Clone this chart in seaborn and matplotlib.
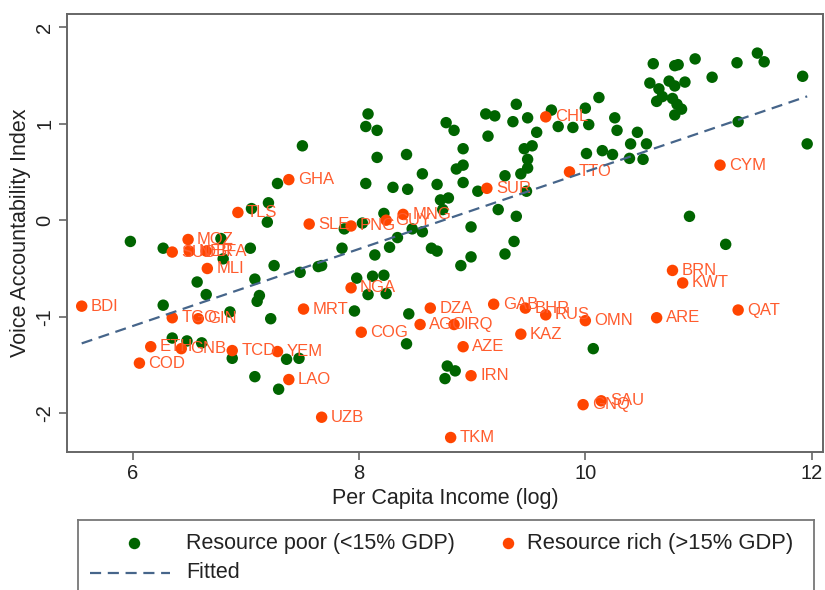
import matplotlib
matplotlib.use("Agg")
import matplotlib.pyplot as plt
import numpy as np
import pandas as pd
import seaborn as sns

# ---- data: log per-capita income vs. voice & accountability index ----
poor_income = [
    5.98, 6.27, 6.78, 6.80, 7.04, 7.05, 7.20, 7.19, 6.57, 6.65, 7.08, 7.25, 7.48,
    6.27, 6.86, 7.12, 7.10, 7.22, 6.35, 6.48, 6.61, 6.88, 7.08, 7.36, 7.47, 7.29,
    7.64, 7.28, 7.50,
    8.06, 8.30, 8.43, 8.56, 8.69, 8.22, 8.03, 7.87, 8.34, 8.27, 8.47, 8.56, 7.85,
    8.14, 8.64, 8.69, 7.67, 7.98, 8.12, 8.22, 8.08, 8.24,
    8.08, 8.06, 8.16, 8.16, 8.42,
    8.77, 8.84, 8.92, 8.92, 8.86, 8.92, 8.72, 8.79, 8.74, 9.05, 9.12, 9.20, 9.14,
    8.99, 8.99, 8.90, 9.23,
    9.39, 10.00, 10.12, 9.36, 9.49, 9.57, 9.70, 9.76, 9.89, 10.03, 10.26, 10.28,
    10.46, 10.40, 10.54, 10.01, 10.15, 10.24, 10.39, 10.51, 9.53, 9.46, 9.49, 9.49,
    9.43, 9.29, 9.48, 9.39, 9.37, 11.35, 11.96, 10.92, 11.24, 9.29,
    10.60, 10.79, 10.82, 10.97, 11.12, 11.34, 11.52, 11.58, 11.92, 10.57, 10.65,
    10.74, 10.79, 10.88, 10.68, 10.63, 10.77, 10.81, 10.85, 10.79,
    10.07,
    7.96, 8.44, 8.42, 8.78, 8.85, 8.76,
]
poor_voice = [
    -0.22, -0.29, -0.19, -0.40, -0.29, 0.12, 0.18, -0.02, -0.64, -0.77, -0.61, -0.47, -0.54,
    -0.88, -0.95, -0.78, -0.84, -1.02, -1.22, -1.25, -1.27, -1.43, -1.62, -1.44, -1.43, -1.75,
    -0.48, 0.38, 0.77,
    0.38, 0.34, 0.32, 0.48, 0.37, 0.07, -0.03, -0.09, -0.18, -0.28, -0.09, -0.12, -0.29,
    -0.36, -0.29, -0.32, -0.47, -0.60, -0.58, -0.57, -0.77, -0.76,
    1.10, 0.97, 0.93, 0.65, 0.68,
    1.01, 0.93, 0.74, 0.57, 0.53, 0.39, 0.21, 0.23, 0.11, 0.30, 1.10, 1.08, 0.87,
    -0.07, -0.38, -0.47, 0.11,
    1.20, 1.16, 1.27, 1.02, 1.06, 0.91, 1.14, 0.97, 0.96, 0.99, 1.06, 0.93,
    0.91, 0.79, 0.79, 0.69, 0.72, 0.68, 0.64, 0.63, 0.77, 0.74, 0.63, 0.54,
    0.48, 0.46, 0.30, 0.04, -0.22, 1.02, 0.79, 0.04, -0.25, -0.35,
    1.62, 1.60, 1.61, 1.67, 1.48, 1.63, 1.73, 1.64, 1.49, 1.42, 1.36,
    1.44, 1.39, 1.43, 1.28, 1.23, 1.26, 1.20, 1.15, 1.09,
    -1.33,
    -0.94, -0.97, -1.28, -1.51, -1.56, -1.64,
]

rich_code = [
    "BDI", "COD", "ETH", "GNB", "TCD", "YEM", "LAO", "TGO", "GIN", "MLI", "MOZ",
    "SUD", "NER", "BFA", "TLS", "GHA", "SLE", "PNG", "GUY", "MNG", "SUR", "CHL",
    "TTO", "CYM", "NGA", "MRT", "COG", "DZA", "AGO", "IRQ", "AZE", "IRN", "UZB",
    "TKM", "GAB", "BHR", "RUS", "OMN", "KAZ", "ARE", "BRN", "KWT", "QAT", "SAU", "GNQ",
]
rich_income = [
    5.55, 6.06, 6.16, 6.43, 6.88, 7.28, 7.38, 6.35, 6.58, 6.66, 6.49,
    6.35, 6.50, 6.65, 6.93, 7.38, 7.56, 7.93, 8.24, 8.39, 9.13, 9.65,
    9.86, 11.19, 7.93, 7.51, 8.02, 8.63, 8.54, 8.84, 8.92, 8.99, 7.67,
    8.81, 9.19, 9.47, 9.65, 10.00, 9.43, 10.63, 10.77, 10.86, 11.35, 10.14, 9.98,
]
rich_voice = [
    -0.89, -1.48, -1.31, -1.33, -1.35, -1.36, -1.65, -1.01, -1.02, -0.50, -0.20,
    -0.33, -0.32, -0.32, 0.08, 0.42, -0.04, -0.06, 0.00, 0.06, 0.33, 1.07,
    0.50, 0.57, -0.70, -0.92, -1.16, -0.91, -1.08, -1.08, -1.31, -1.61, -2.04,
    -2.25, -0.87, -0.91, -0.98, -1.04, -1.18, -1.01, -0.52, -0.65, -0.93, -1.87, -1.91,
]

# linear fit across all countries
fit_intercept = -3.49
fit_slope = 0.399

x_ticks = [6, 8, 10, 12]
y_ticks = [-2, -1, 0, 1, 2]

GREEN = "#006400"
ORANGE = "#FF4500"
LABEL_ORANGE = "#FF5C2E"
FIT_BLUE = "#46658A"
TEXT = "#222222"
FRAME = "#666666"

sns.set_theme(style="white")
plt.rcParams["font.family"] = ["Liberation Sans", "DejaVu Sans"]

poor_label = "Resource poor (<15% GDP)"
rich_label = "Resource rich (>15% GDP)"
df = pd.concat([
    pd.DataFrame({"income": poor_income, "voice": poor_voice, "group": poor_label, "code": ""}),
    pd.DataFrame({"income": rich_income, "voice": rich_voice, "group": rich_label, "code": rich_code}),
], ignore_index=True)

fig = plt.figure(figsize=(8.25, 5.9), dpi=100)
ax = fig.add_axes([0.0812, 0.2339, 0.9164, 0.7424])

sns.scatterplot(data=df, x="income", y="voice", hue="group",
                palette={poor_label: GREEN, rich_label: ORANGE},
                s=68, linewidth=0, legend=False, ax=ax, zorder=3)

rich = df[df["group"] == rich_label]
for _, r in rich.iterrows():
    ax.annotate(r["code"], (r["income"], r["voice"]), xytext=(6.5, 0),
                textcoords="offset points", ha="left", va="center",
                fontsize=12, color=LABEL_ORANGE, zorder=3.5)

fx = np.array([df["income"].min(), df["income"].max()])
fy = fit_intercept + fit_slope * fx
sns.lineplot(x=fx, y=fy, ax=ax, color=FIT_BLUE, lw=1.6, dashes=False, zorder=4)
ax.lines[-1].set_dashes((5, 3))

ax.set_xlim(5.42, 12.1)
ax.set_ylim(-2.40, 2.135)
ax.set_xticks(x_ticks)
ax.set_yticks(y_ticks)
ax.set_xticklabels([str(t) for t in x_ticks])
ax.set_yticklabels([str(t) for t in y_ticks], rotation=90, va="center")
ax.tick_params(axis="both", direction="out", length=6, width=1.2, color=FRAME,
               labelsize=14.5, labelcolor=TEXT, left=True, bottom=True, pad=3)
for sp in ax.spines.values():
    sp.set_color(FRAME)
    sp.set_linewidth(1.4)

ax.set_xlabel("Per Capita Income (log)", fontsize=15.5, color=TEXT, labelpad=3)
ax.set_ylabel("Voice Accountability Index", fontsize=15.5, color=TEXT, labelpad=3)

# legend panel below the plot, laid out in pixel units
lax = fig.add_axes([78 / 825, 1 - 600 / 590, (814 - 78) / 825, 80 / 590])
lax.set_xlim(78, 814)
lax.set_ylim(600, 520)
lax.set_xticks([])
lax.set_yticks([])
for sp in lax.spines.values():
    sp.set_color("#777777")
    sp.set_linewidth(1.3)
lax.scatter([134], [543], s=68, color=GREEN, linewidth=0)
lax.text(186, 543, poor_label, va="center", ha="left", fontsize=15.5, color=TEXT)
lax.scatter([508], [543], s=68, color=ORANGE, linewidth=0)
lax.text(527, 543, rich_label, va="center", ha="left", fontsize=15.8, color=TEXT)
lax.plot([90, 170], [573, 573], color=FIT_BLUE, lw=1.6, dashes=(5, 3))
lax.text(186, 573, "Fitted", va="center", ha="left", fontsize=15.5, color=TEXT)

fig.savefig("out.png", dpi=100)
